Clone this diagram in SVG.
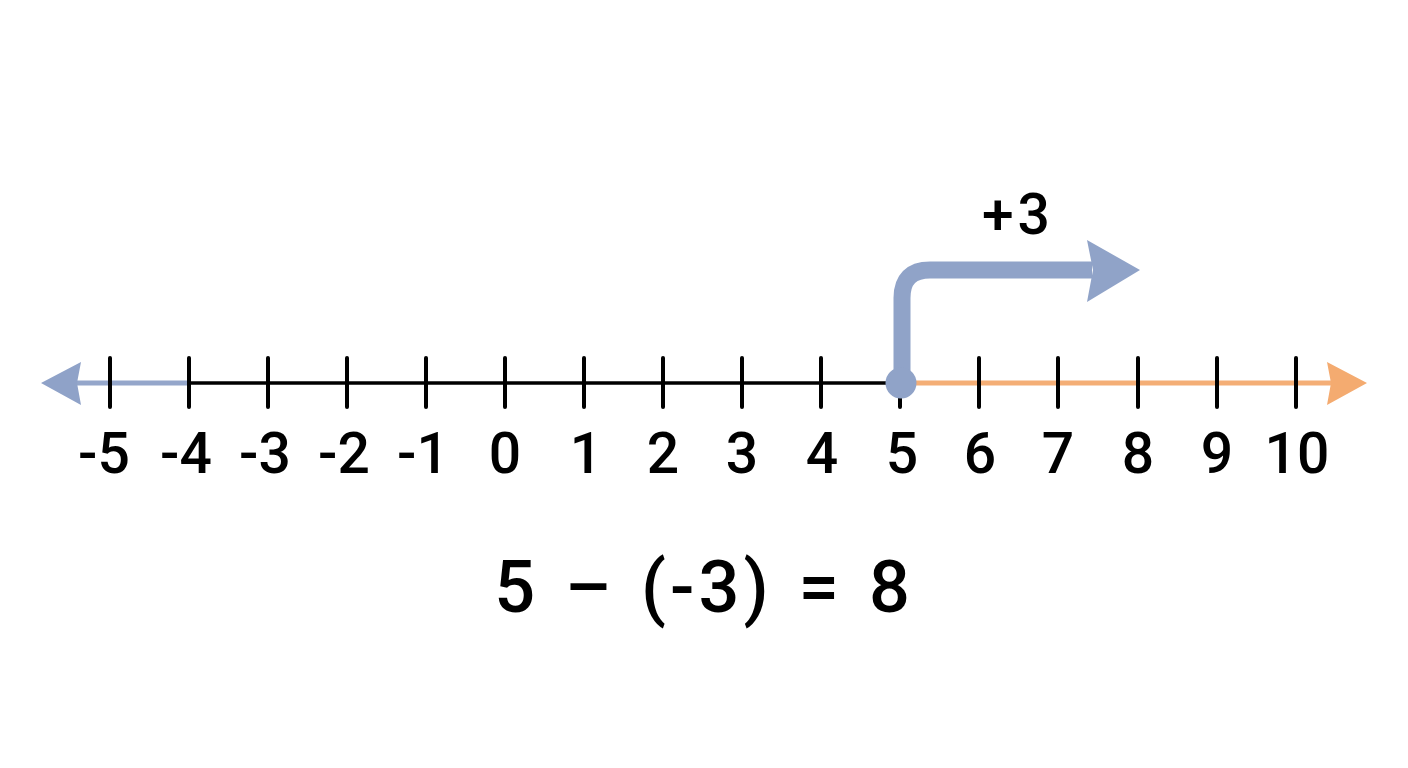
<svg xmlns="http://www.w3.org/2000/svg" width="1408" height="768" viewBox="0 0 1408 768">
<style>
.tick{stroke:#000;stroke-width:4;stroke-linecap:round}
.lbl{font-family:Roboto,"Noto Sans","DejaVu Sans",sans-serif;font-size:57px;font-weight:500;fill:#000;text-anchor:middle}
</style>
<rect width="1408" height="768" fill="#fff"/>
<g id="axis">
<line x1="70" y1="383" x2="189" y2="383" stroke="#94a6ca" stroke-width="5"/>
<line x1="189" y1="383" x2="900" y2="383" stroke="#000" stroke-width="3.5"/>
<line x1="900" y1="383" x2="1335" y2="383" stroke="#f4ae76" stroke-width="5"/>
<path d="M41,383 L81,362 L77,383 L81,405 Z" fill="#8fa2c8"/>
<path d="M1367,383 L1327,362 L1331,383 L1327,405 Z" fill="#f4ab70"/>
</g>
<g id="ticks">
<line class="tick" x1="110" y1="358" x2="110" y2="407"/>
<line class="tick" x1="189" y1="358" x2="189" y2="407"/>
<line class="tick" x1="268" y1="358" x2="268" y2="407"/>
<line class="tick" x1="347" y1="358" x2="347" y2="407"/>
<line class="tick" x1="426" y1="358" x2="426" y2="407"/>
<line class="tick" x1="505" y1="358" x2="505" y2="407"/>
<line class="tick" x1="584" y1="358" x2="584" y2="407"/>
<line class="tick" x1="663" y1="358" x2="663" y2="407"/>
<line class="tick" x1="742" y1="358" x2="742" y2="407"/>
<line class="tick" x1="821" y1="358" x2="821" y2="407"/>
<line class="tick" x1="900" y1="358" x2="900" y2="407"/>
<line class="tick" x1="979" y1="358" x2="979" y2="407"/>
<line class="tick" x1="1058" y1="358" x2="1058" y2="407"/>
<line class="tick" x1="1138" y1="358" x2="1138" y2="407"/>
<line class="tick" x1="1217" y1="358" x2="1217" y2="407"/>
<line class="tick" x1="1296" y1="358" x2="1296" y2="407"/>
</g>
<g id="labels">
<text class="lbl" x="104" y="473">-5</text>
<text class="lbl" x="186" y="473">-4</text>
<text class="lbl" x="265" y="473">-3</text>
<text class="lbl" x="344" y="473">-2</text>
<text class="lbl" x="423" y="473">-1</text>
<text class="lbl" x="505" y="473">0</text>
<text class="lbl" x="586" y="473">1</text>
<text class="lbl" x="663" y="473">2</text>
<text class="lbl" x="742" y="473">3</text>
<text class="lbl" x="822" y="473">4</text>
<text class="lbl" x="902" y="473">5</text>
<text class="lbl" x="980" y="473">6</text>
<text class="lbl" x="1058" y="473">7</text>
<text class="lbl" x="1138" y="473">8</text>
<text class="lbl" x="1217" y="473">9</text>
<text class="lbl" x="1297" y="473">10</text>
</g>
<g id="connectors">
<path d="M902,383 L902,298 Q902,270 930,270 L1092,270" fill="none" stroke="#90a3c8" stroke-width="17"/>
<path d="M1140,270 L1087,240 L1093,270 L1087,302 Z" fill="#90a3c8"/>
</g>
<g id="start-dot">
<circle cx="901" cy="383" r="15.5" fill="#90a3c8"/>
</g>
<g id="step-label">
<text class="lbl" x="1018" y="234" font-size="62" letter-spacing="4">+3</text>
</g>
<g id="equation">
<text x="704" y="612" font-family="Roboto,&quot;Noto Sans&quot;,&quot;DejaVu Sans&quot;,sans-serif" font-size="72" font-weight="500" word-spacing="4" letter-spacing="4" text-anchor="middle" fill="#000">5 – (-3) = 8</text>
</g>
</svg>
